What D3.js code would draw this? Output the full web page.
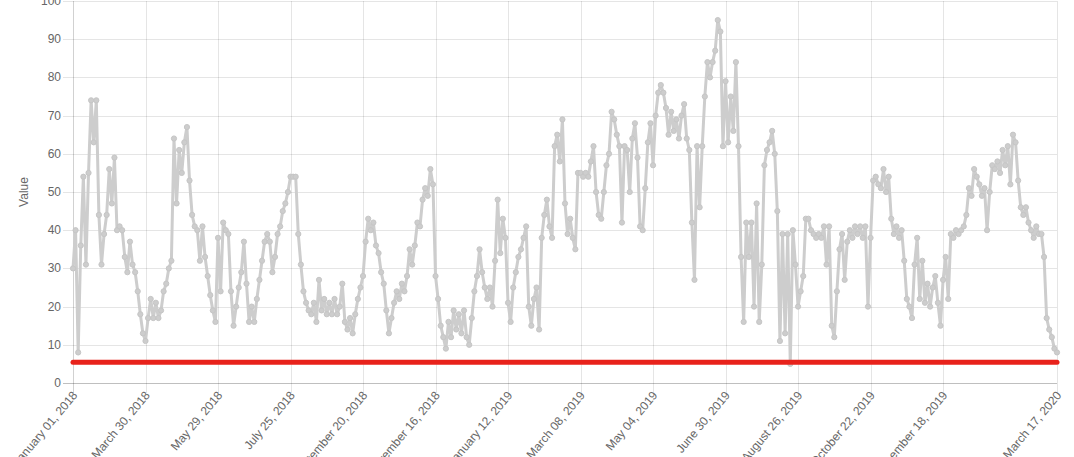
<!DOCTYPE html>
<html>
<head>
<meta charset="utf-8">
<script src="https://cdn.jsdelivr.net/npm/d3@7"></script>
<style>
  html, body { margin: 0; padding: 0; background: #fff; }
  svg { display: block; }
  text { font-family: "Liberation Sans", Arial, Helvetica, sans-serif; font-size: 12px; fill: #666; }
</style>
</head>
<body>
<svg id="chart" width="1074" height="457"></svg>
<script>
// ---- data ----
const values = [
  30,40,8,36,54,31,55,74,63,74,
  44,31,39,44,56,47,59,40,41,40,
  33,29,37,31,29,24,18,13,11,17,
  22,17,21,17,19,24,26,30,32,64,
  47,61,55,63,67,53,44,41,40,32,
  41,33,28,23,19,16,38,24,42,40,
  39,24,15,20,25,29,37,26,16,20,
  16,22,27,32,37,39,37,29,33,39,
  41,45,47,50,54,54,54,39,31,24,
  21,19,18,21,16,27,19,22,18,21,
  18,22,18,20,26,16,14,17,13,18,
  22,25,28,37,43,40,42,36,34,29,
  26,19,13,17,21,24,22,26,24,28,
  35,31,36,42,41,48,51,49,56,52,
  28,22,15,12,9,16,12,19,14,18,
  13,19,12,10,17,24,28,35,29,25,
  22,25,20,32,48,34,43,38,21,16,
  25,29,33,35,38,41,20,15,22,25,
  14,38,44,48,41,38,62,65,58,69,
  47,39,43,38,35,55,55,54,55,54,
  58,62,50,44,43,50,57,60,71,69,
  65,62,42,62,61,50,64,68,59,41,
  40,51,63,68,57,70,76,78,76,72,
  65,71,66,69,64,70,73,64,61,42,
  27,62,46,62,75,84,80,84,87,95,
  92,62,79,63,75,66,84,62,33,16,
  42,33,42,20,47,16,31,57,61,63,
  66,60,45,11,39,13,39,5,40,31,
  20,24,28,43,43,40,39,38,39,38,
  41,31,41,15,12,24,35,39,27,37,
  40,38,41,39,41,38,41,20,38,53,
  54,52,51,56,50,54,43,39,41,38,
  40,32,22,20,17,31,38,22,32,21,
  26,20,25,28,21,15,27,33,22,39,
  38,40,39,40,41,44,51,49,56,54,
  52,49,51,40,50,57,56,58,55,61,
  57,62,52,65,63,53,46,44,46,42,
  40,38,41,39,39,33,17,14,12,9,8
];
const tickIndex = [0,28,56,84,112,140,168,196,224,252,280,308,336,380];
const tickLabels = [
  "January 01, 2018","March 30, 2018","May 29, 2018","July 25, 2018",
  "September 20, 2018","November 16, 2018","January 12, 2019","March 08, 2019",
  "May 04, 2019","June 30, 2019","August 26, 2019","October 22, 2019",
  "December 18, 2019","March 17, 2020"
];
const yTickValues = [0,10,20,30,40,50,60,70,80,90,100];
const threshold = 5.4;
const yTitle = "Value";

(function draw() {
  const svg = d3.select("#chart");
  const pLeft = 73, pRight = 1057, pTop = 1, pBottom = 383;

  const x = d3.scaleLinear().domain([0, values.length - 1]).range([pLeft, pRight]);
  const y = d3.scaleLinear().domain([0, 100]).range([pBottom, pTop]);

  const gGrid = svg.append("g");
  gGrid.selectAll("line.h").data(yTickValues).enter().append("line")
    .attr("x1", pLeft - 10).attr("x2", pRight)
    .attr("y1", d => Math.round(y(d)) + 0.5).attr("y2", d => Math.round(y(d)) + 0.5)
    .attr("stroke", d => d === 0 ? "rgba(0,0,0,0.25)" : "rgba(0,0,0,0.1)")
    .attr("stroke-width", 1);
  gGrid.selectAll("line.v").data(tickIndex).enter().append("line")
    .attr("x1", d => Math.round(x(d)) + 0.5).attr("x2", d => Math.round(x(d)) + 0.5)
    .attr("y1", pTop).attr("y2", pBottom + 10)
    .attr("stroke", (d, i) => i === 0 ? "rgba(0,0,0,0.18)" : "rgba(0,0,0,0.1)")
    .attr("stroke-width", 1);

  svg.append("g").selectAll("text").data(yTickValues).enter().append("text")
    .attr("x", pLeft - 12).attr("y", d => y(d))
    .attr("text-anchor", "end").attr("dominant-baseline", "central")
    .text(d => d);

  svg.append("text")
    .attr("transform", `translate(24,${(pTop + pBottom) / 2}) rotate(-90)`)
    .attr("text-anchor", "middle").attr("dominant-baseline", "central")
    .text(yTitle);

  svg.append("g").selectAll("text").data(tickIndex).enter().append("text")
    .attr("transform", d => `translate(${x(d) + 2},${pBottom + 10}) rotate(-50)`)
    .attr("text-anchor", "end").attr("dominant-baseline", "central")
    .text((d, i) => tickLabels[i]);

  const line = d3.line().x((d, i) => x(i)).y(d => y(d));
  svg.append("path").datum(values)
    .attr("d", line).attr("fill", "none")
    .attr("stroke", "#cdcdcd").attr("stroke-width", 3)
    .attr("stroke-linejoin", "round");
  svg.append("g").selectAll("circle").data(values).enter().append("circle")
    .attr("cx", (d, i) => x(i)).attr("cy", d => y(d)).attr("r", 2.6)
    .attr("fill", "#cdcdcd").attr("stroke", "#c6c6c6").attr("stroke-width", 1);

  svg.append("line")
    .attr("x1", x(0)).attr("x2", x(values.length - 1))
    .attr("y1", y(threshold)).attr("y2", y(threshold))
    .attr("stroke", "#e8221b").attr("stroke-width", 5)
    .attr("stroke-linecap", "round");
})();
</script>
</body>
</html>
